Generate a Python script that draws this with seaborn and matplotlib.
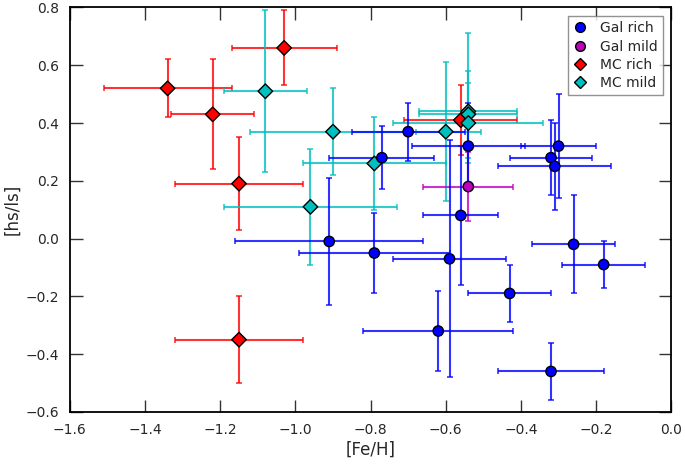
import numpy as np
import pandas as pd
import matplotlib
matplotlib.use("Agg")
import matplotlib.pyplot as plt
from matplotlib.lines import Line2D
import seaborn as sns

# Gal rich
gal_rich_feh = [-0.91, -0.79, -0.77, -0.70, -0.62, -0.59, -0.56, -0.54, -0.43, -0.32, -0.32, -0.31, -0.30, -0.26, -0.18]
gal_rich_hs = [-0.01, -0.05, 0.28, 0.37, -0.32, -0.07, 0.08, 0.32, -0.19, -0.46, 0.28, 0.25, 0.32, -0.02, -0.09]
gal_rich_xerr = [0.25, 0.20, 0.14, 0.15, 0.20, 0.15, 0.10, 0.15, 0.11, 0.14, 0.11, 0.15, 0.10, 0.11, 0.11]
gal_rich_yerr = [0.22, 0.14, 0.11, 0.10, 0.14, 0.41, 0.24, 0.15, 0.10, 0.10, 0.13, 0.15, 0.18, 0.17, 0.08]

# Gal mild
gal_mild_feh = [-0.54]
gal_mild_hs = [0.18]
gal_mild_xerr = [0.12]
gal_mild_yerr = [0.12]

# MC rich
mc_rich_feh = [-1.34, -1.22, -1.03, -1.15, -1.15, -0.56]
mc_rich_hs = [0.52, 0.43, 0.66, 0.19, -0.35, 0.41]
mc_rich_xerr = [0.17, 0.11, 0.14, 0.17, 0.17, 0.15]
mc_rich_yerr = [0.10, 0.19, 0.13, 0.16, 0.15, 0.12]

# MC mild
mc_mild_feh = [-1.08, -0.96, -0.90, -0.79, -0.60, -0.54, -0.54, -0.54]
mc_mild_hs = [0.51, 0.11, 0.37, 0.26, 0.37, 0.44, 0.43, 0.40]
mc_mild_xerr = [0.11, 0.23, 0.22, 0.19, 0.095, 0.13, 0.13, 0.20]
mc_mild_yerr = [0.28, 0.20, 0.15, 0.16, 0.24, 0.27, 0.15, 0.14]

groups = ["MC rich", "MC mild", "Gal mild", "Gal rich"]
kolory = {"Gal rich": "#0000ff", "Gal mild": "#bf00bf", "MC rich": "#ff0000", "MC mild": "#00bfbf"}
markery = {"Gal rich": "o", "Gal mild": "o", "MC rich": "D", "MC mild": "D"}

dane = {
    "MC rich": (mc_rich_feh, mc_rich_hs, mc_rich_xerr, mc_rich_yerr),
    "MC mild": (mc_mild_feh, mc_mild_hs, mc_mild_xerr, mc_mild_yerr),
    "Gal mild": (gal_mild_feh, gal_mild_hs, gal_mild_xerr, gal_mild_yerr),
    "Gal rich": (gal_rich_feh, gal_rich_hs, gal_rich_xerr, gal_rich_yerr),
}

df = pd.concat([
    pd.DataFrame({"feh": v[0], "hs": v[1], "xerr": v[2], "yerr": v[3], "grupa": k})
    for k, v in dane.items()
], ignore_index=True)

sns.set_style("ticks")
plt.rcParams["font.family"] = ["DejaVu Sans"]
plt.rcParams["xtick.direction"] = "in"
plt.rcParams["ytick.direction"] = "in"

fig, ax = plt.subplots(figsize=(6.85, 4.67), dpi=100)
fig.subplots_adjust(left=0.102, right=0.980, top=0.984, bottom=0.118)

# słupki błędów
for g in groups:
    sub = df[df["grupa"] == g]
    ax.errorbar(sub["feh"], sub["hs"], xerr=sub["xerr"], yerr=sub["yerr"],
                fmt="none", ecolor=kolory[g], elinewidth=1.5, capsize=2,
                capthick=1.2, alpha=0.8, zorder=2)

sns.scatterplot(data=df, x="feh", y="hs", hue="grupa", style="grupa",
                palette=kolory, markers=markery, s=55, edgecolor="black",
                linewidth=1.0, legend=False, ax=ax, zorder=3)

ax.set_xlim(-1.6, 0.0)
ax.set_ylim(-0.6, 0.8)
ax.set_xticks(np.round(np.arange(-1.6, 0.01, 0.2), 1) + 0.0)
ax.set_yticks(np.round(np.arange(-0.6, 0.81, 0.2), 1) + 0.0)
fmt = plt.FuncFormatter(lambda v, p: f"{round(v, 1) + 0.0:.1f}".replace("-", "\u2212"))
ax.xaxis.set_major_formatter(fmt)
ax.yaxis.set_major_formatter(fmt)
ax.tick_params(which="both", top=True, right=True, length=9, width=1.0,
               color="#333333", labelsize=10, pad=8)
for s in ax.spines.values():
    s.set_linewidth(1.3)
    s.set_color("black")

ax.set_xlabel("[Fe/H]", fontsize=12, labelpad=3)
ax.set_ylabel("[hs/ls]", fontsize=12, labelpad=3)

kolejnosc = ["Gal rich", "Gal mild", "MC rich", "MC mild"]
uchwyty = [Line2D([], [], linestyle="none", marker=markery[k], color=kolory[k],
                  markeredgecolor="black", markersize=7 if markery[k] == "o" else 6.5)
           for k in kolejnosc]
leg = ax.legend(uchwyty, kolejnosc, loc="upper right", fontsize=10, numpoints=1,
                frameon=True, fancybox=False, handlelength=1.0, handletextpad=0.9,
                borderpad=0.4, labelspacing=0.3, borderaxespad=0.6)
leg.get_frame().set_edgecolor("#777777")
leg.get_frame().set_linewidth(1.0)

plt.savefig("out.png", dpi=100)
